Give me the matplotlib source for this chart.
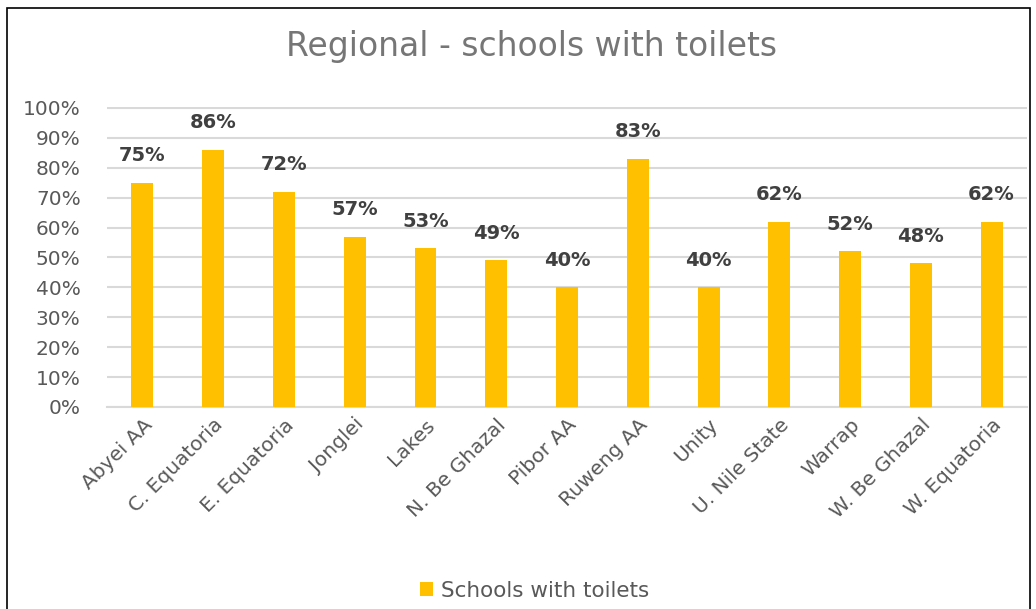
import matplotlib.pyplot as plt
from matplotlib.patches import Rectangle
from matplotlib.ticker import PercentFormatter

# ---------- データ ----------
regions = ["Abyei AA", "C. Equatoria", "E. Equatoria", "Jonglei", "Lakes",
           "N. Be Ghazal", "Pibor AA", "Ruweng AA", "Unity", "U. Nile State",
           "Warrap", "W. Be Ghazal", "W. Equatoria"]
toilets = [75, 86, 72, 57, 53, 49, 40, 83, 40, 62, 52, 48, 62]

BAR_COLOR = "#FFC000"
TEXT_GRAY = "#595959"

fig = plt.figure(figsize=(10.36, 6.09), dpi=100)
ax = fig.add_axes([0.1033, 0.3317, 0.888, 0.4926])

x = range(len(regions))
bars = ax.bar(x, toilets, width=0.31, color=BAR_COLOR, label="Schools with toilets", zorder=3)

# データラベル
for xi, v in zip(x, toilets):
    ax.text(xi, v + 5.8, f"{v}%", ha="center", va="bottom", fontsize=14,
            fontweight="bold", color="#404040")

ax.set_ylim(0, 100.3)
ax.set_xlim(-0.5, len(regions) - 0.5)
ax.set_yticks(range(0, 101, 10))
ax.yaxis.set_major_formatter(PercentFormatter(decimals=0))
ax.grid(axis="y", color="#D9D9D9", linewidth=1.5, zorder=0)
for s in ["top", "right", "left"]:
    ax.spines[s].set_visible(False)
ax.spines["bottom"].set_color("#D9D9D9")
ax.spines["bottom"].set_linewidth(1.5)
ax.tick_params(axis="both", length=0, labelsize=14.5, labelcolor=TEXT_GRAY)
ax.tick_params(axis="y", pad=19)
ax.tick_params(axis="x", pad=6)
ax.set_xticks(list(x))
ax.set_xticklabels(regions, rotation=45, ha="right", rotation_mode="anchor")

# タイトル
fig.text(0.513, 0.923, "Regional - schools with toilets", ha="center", va="center",
         fontsize=23.8, color="#767676")

# 凡例
ax.legend(loc="center", bbox_to_anchor=(0.516, 0.03), bbox_transform=fig.transFigure,
          frameon=False, fontsize=15.5, labelcolor=TEXT_GRAY, handlelength=0.6,
          handleheight=0.6, handletextpad=0.4)

# 外枠
fig.patches.append(Rectangle((7 / 1036, -0.01), 1023 / 1036, 1 - 8 / 609 + 0.01,
                             transform=fig.transFigure, fill=False,
                             edgecolor="black", linewidth=1.2))

fig.savefig("out.png", dpi=100)
